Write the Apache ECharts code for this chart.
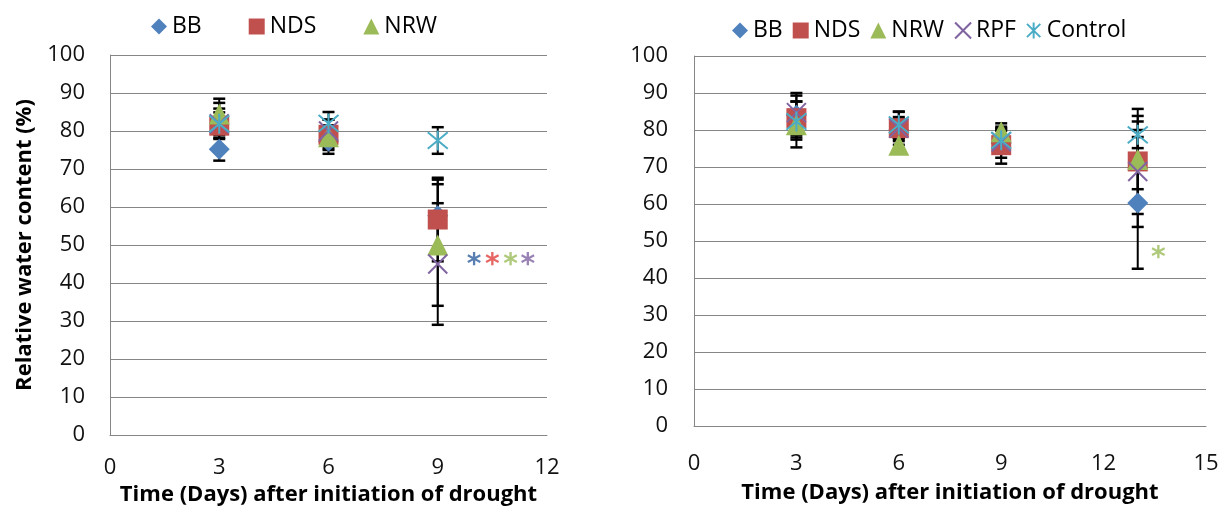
<!DOCTYPE html>
<html>
<head>
<meta charset="utf-8">
<script src="https://cdn.jsdelivr.net/npm/echarts@6/dist/echarts.min.js"></script>
<style>
html,body{margin:0;padding:0;background:#fff;}
#chart{width:1226px;height:509px;}
</style>
</head>
<body>
<div id="chart"></div>
<script>
// ---------- DATA ----------
const seriesNames = ['BB', 'NDS', 'NRW', 'RPF', 'Control'];
const colors = ['#4F81BD', '#C0504D', '#9BBB59', '#8064A2', '#4BACC6'];

// Left panel
const daysLeft = [3, 6, 9];
const leftBB      = [75.2, 77.3, 57.7];
const leftNDS     = [81.4, 79.0, 56.7];
const leftNRW     = [84.5, 78.5, 50.0];
const leftRPF     = [81.9, 80.0, 45.0];
const leftControl = [81.9, 82.0, 77.5];
const leftBBErr      = [3.0, 3.3, 9.5];
const leftNDSErr     = [6.0, 4.0, 11.0];
const leftNRWErr     = [4.0, 3.0, 16.0];
const leftRPFErr     = [4.0, 3.0, 16.0];
const leftControlErr = [3.0, 3.0, 3.5];

// Right panel
const daysRight = [3, 6, 9, 13];
const rightBB      = [84.0, 80.0, 76.5, 60.3];
const rightNDS     = [83.2, 80.5, 75.9, 71.5];
const rightNRW     = [81.4, 75.9, 79.5, 72.0];
const rightRPF     = [84.7, 80.5, 76.8, 68.8];
const rightControl = [82.3, 81.4, 77.2, 78.7];
const rightBBErr      = [6.0, 3.0, 4.0, 17.8];
const rightNDSErr     = [4.5, 4.5, 5.0, 14.2];
const rightNRWErr     = [4.0, 2.0, 2.3, 8.0];
const rightRPFErr     = [3.0, 3.0, 3.0, 15.0];
const rightControlErr = [7.0, 3.5, 3.0, 3.6];

// significance marks (*): [day, value]
const sigLeftX = [10.0, 10.5, 11.0, 11.47];
const sigLeftY = [46.8, 46.8, 46.8, 46.8];
const sigLeftColors = ['#2F5F9F', '#E0403C', '#9BBB59', '#8064A2'];
const sigRightX = [13.6];
const sigRightY = [47.6];
const sigRightColors = ['#9BBB59'];

// axis ticks
const xTicksLeft = [0, 3, 6, 9, 12];
const xTicksRight = [0, 3, 6, 9, 12, 15];
const yTicks = [0, 10, 20, 30, 40, 50, 60, 70, 80, 90, 100];

const xTitle = 'Time (Days) after initiation of drought';
const yTitle = 'Relative water content (%)';

// ---------- BUILD ----------
const FONT = 'Open Sans';
const symbols = [
  'diamond',
  'rect',
  'triangle',
  'path://M0,0L20,20M20,0L0,20',
  'path://M0,0L20,20M20,0L0,20M10,-2L10,22'
];
const sizes = [21, 20, 21, 19, 20];

const leftVals = [leftBB, leftNDS, leftNRW, leftRPF, leftControl];
const leftErrs = [leftBBErr, leftNDSErr, leftNRWErr, leftRPFErr, leftControlErr];
const rightVals = [rightBB, rightNDS, rightNRW, rightRPF, rightControl];
const rightErrs = [rightBBErr, rightNDSErr, rightNRWErr, rightRPFErr, rightControlErr];

function itemStyleFor(i) {
  if (i >= 3) return {color: 'rgba(0,0,0,0)', borderColor: colors[i], borderWidth: 2, opacity: 1};
  return {color: colors[i], opacity: 1};
}

function renderErr(params, api) {
  const x = api.value(0), lo = api.value(1), hi = api.value(2);
  const a = api.coord([x, lo]), b = api.coord([x, hi]);
  const w = 6;
  const st = {stroke: '#000', lineWidth: 2};
  const cs = {stroke: '#000', lineWidth: 2.5};
  return {type: 'group', children: [
    {type: 'line', shape: {x1: a[0], y1: a[1], x2: b[0], y2: b[1]}, style: st},
    {type: 'line', shape: {x1: a[0] - w, y1: a[1], x2: a[0] + w, y2: a[1]}, style: cs},
    {type: 'line', shape: {x1: b[0] - w, y1: b[1], x2: b[0] + w, y2: b[1]}, style: cs}
  ]};
}

const series = [];
[[0, daysLeft, leftVals, leftErrs], [1, daysRight, rightVals, rightErrs]].forEach(([ax, days, vals, errs]) => {
  vals.forEach((v, i) => {
    series.push({
      type: 'custom', name: seriesNames[i] + '_err', xAxisIndex: ax, yAxisIndex: ax,
      renderItem: renderErr, z: 1, silent: true,
      encode: {x: 0, y: [1, 2]},
      data: days.map((d, k) => [d, v[k] - errs[i][k], v[k] + errs[i][k]])
    });
  });
  vals.forEach((v, i) => {
    series.push({
      type: 'scatter', name: seriesNames[i], xAxisIndex: ax, yAxisIndex: ax,
      symbol: symbols[i], symbolSize: sizes[i], z: 3 + i,
      itemStyle: itemStyleFor(i),
      data: days.map((d, k) => [d, v[k]])
    });
  });
});

function sigSeries(ax, xs, ys, cols) {
  return {
    type: 'scatter', name: 'sig' + ax, xAxisIndex: ax, yAxisIndex: ax, z: 10,
    symbolSize: 1, itemStyle: {color: 'rgba(0,0,0,0)'},
    label: {show: true, position: 'inside', formatter: '*', fontFamily: 'DejaVu Sans',
      fontSize: 28, fontWeight: 'bold', offset: [0, 9]},
    data: xs.map((x, k) => ({value: [x, ys[k]], label: {color: cols[k]}}))
  };
}
series.push(sigSeries(0, sigLeftX, sigLeftY, sigLeftColors));
series.push(sigSeries(1, sigRightX, sigRightY, sigRightColors));

const gridColor = '#868686';
function xAxis(idx, ticks) {
  return {
    type: 'value', gridIndex: idx, min: ticks[0], max: ticks[ticks.length - 1], interval: 3,
    name: xTitle, nameLocation: 'middle', nameGap: idx === 0 ? 47 : 56,
    nameTextStyle: {fontFamily: FONT, fontSize: 22, fontWeight: 'bold', color: '#000'},
    axisLine: {show: true, onZero: false, lineStyle: {color: gridColor, width: 1}},
    axisTick: {show: false},
    splitLine: {show: false},
    axisLabel: {fontFamily: FONT, fontSize: 22, color: '#111', margin: idx === 0 ? 22 : 27}
  };
}
function yAxis(idx) {
  const a = {
    type: 'value', gridIndex: idx, min: 0, max: 100, interval: 10,
    axisLine: {show: true, lineStyle: {color: gridColor, width: 1}},
    axisTick: {show: false},
    splitLine: {show: true, lineStyle: {color: gridColor, width: 1}},
    axisLabel: {fontFamily: FONT, fontSize: 22, color: '#111', margin: idx === 0 ? 25 : 26}
  };
  if (idx === 0) {
    a.name = yTitle; a.nameLocation = 'middle'; a.nameGap = 74;
    a.nameTextStyle = {fontFamily: FONT, fontSize: 22, fontWeight: 'bold', color: '#000'};
  }
  return a;
}

const option = {
  animation: false,
  backgroundColor: '#fff',
  grid: [
    {left: 110, right: 1226 - 547, top: 55, bottom: 509 - 435, outerBoundsMode: 'none', containLabel: false},
    {left: 694, right: 1226 - 1206, top: 56, bottom: 509 - 426, outerBoundsMode: 'none', containLabel: false}
  ],
  xAxis: [xAxis(0, xTicksLeft), xAxis(1, xTicksRight)],
  yAxis: [yAxis(0), yAxis(1)],
  legend: [
    {left: 146, top: 10, itemGap: 47, itemWidth: 16, itemHeight: 16,
      textStyle: {fontFamily: FONT, fontSize: 23, color: '#000'},
      data: seriesNames.slice(0, 3)},
    {left: 727, top: 14, itemGap: 10, itemWidth: 16, itemHeight: 16,
      textStyle: {fontFamily: FONT, fontSize: 23, color: '#000'},
      data: seriesNames.slice()}
  ],
  series: series
};

const chart = echarts.init(document.getElementById('chart'), null, {renderer: 'canvas'});
chart.setOption(option);
</script>
</body>
</html>
